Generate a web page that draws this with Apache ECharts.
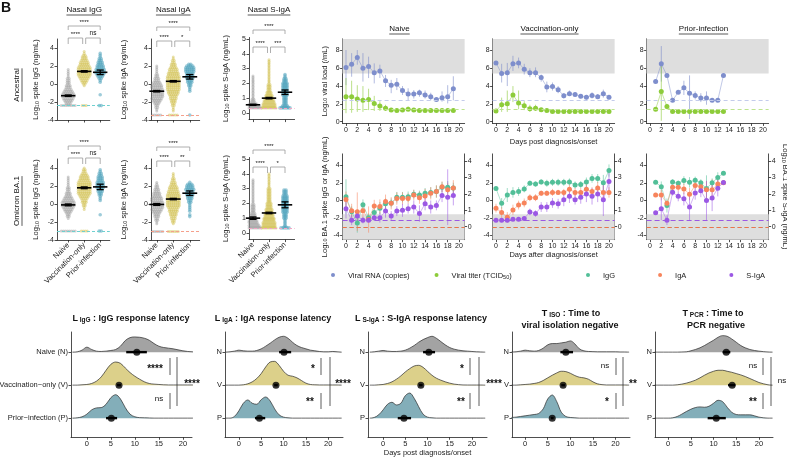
<!DOCTYPE html>
<html><head><meta charset="utf-8">
<script src="https://cdn.jsdelivr.net/npm/echarts@6/dist/echarts.min.js"></script>
<style>html,body{margin:0;padding:0;background:#fff}#c{width:787px;height:458px}</style>
</head><body><div id="c"></div><script>
const FONT = "'Liberation Sans', Arial, Helvetica, sans-serif";

// ---------------- DATA ----------------
const groupNames = ['Naive', 'Vaccination-only', 'Prior-infection'];

// Beeswarm panels: points at LOD (lodN) + counts per y-bin (start, step)
const ancIgG_lod = -2.4;
const ancIgG_naive = {lodN: 8, start: -2.2, step: 0.2, counts: [3,4,5,6,7,7,6,5,4,3,3,2,2,2,2,1,1,1,1,1]};
const ancIgG_vacc  = {lodN: 3, start: -0.2, step: 0.2, counts: [1,2,3,4,5,6,7,7,7,7,7,6,5,5,4,3,3,2,1,1]};
const ancIgG_prior = {lodN: 2, start: -1.2, step: 0.2, counts: [1,0,0,0,0,0,0,1,1,2,3,4,5,5,5,4,4,3,3,2,2,1,1,1]};
const ancIgG_mean = [[-1.3, 0.08], [1.4, 0.08], [1.3, 0.25]];

const ancIgA_lod = -3.45;
const ancIgA_naive = {lodN: 5, start: -3.0, step: 0.2, counts: [1,1,2,2,3,4,5,6,7,7,7,7,7,6,6,5,4,3,3,2,2,1,1,1,1,1]};
const ancIgA_vacc  = {lodN: 5, start: -3.0, step: 0.2, counts: [1,1,1,2,2,3,3,4,4,5,6,6,7,7,7,7,7,7,7,7,6,6,5,5,4,3,3,2,2,1,1]};
const ancIgA_prior = {lodN: 1, start: -0.8, step: 0.2, counts: [1,1,1,2,2,3,3,4,4,4,4,5,5,5,4,2]};
const ancIgA_mean = [[-0.8, 0.08], [0.3, 0.08], [0.8, 0.25]];

const ancSIgA_lod = 0.34;
const ancSIgA_naive = {lodN: 9, start: 0.4, step: 0.1, counts: [8,7,5,3,2,2,1,1,1,1,1,1,1,1,1,1,1,1,1,1,1,1]};
const ancSIgA_vacc  = {lodN: 8, start: 0.4, step: 0.1, counts: [7,7,7,6,6,5,5,4,4,3,3,2,2,2,2,2,1,1,1,1,1,1,1,1,1,1,1,1,1,1,1,1,1]};
const ancSIgA_prior = {lodN: 6, start: 0.4, step: 0.1, counts: [4,3,2,2,2,2,2,2,3,3,3,3,3,3,3,3,3,2,2,2,1,1,1]};
const ancSIgA_mean = [[0.55, 0.04], [1.0, 0.05], [1.4, 0.15]];

const omiIgG_lod = -3.0;
const omiIgG_naive = {lodN: 8, start: -1.6, step: 0.2, counts: [1,2,2,3,4,5,6,7,7,7,6,5,4,3,3,2,2,2,1,1,1,1,1,1]};
const omiIgG_vacc  = {lodN: 4, start: -0.6, step: 0.2, counts: [1,1,2,2,3,3,4,5,6,7,7,7,7,7,7,7,6,5,5,4,3,2,2,1]};
const omiIgG_prior = {lodN: 2, start: -1.2, step: 0.2, counts: [1,0,0,0,0,0,0,0,1,1,1,2,2,3,3,4,4,4,4,3,3,3,2,2,1,1]};
const omiIgG_mean = [[-0.1, 0.1], [1.8, 0.1], [1.9, 0.3]];

const omiIgA_lod = -3.05;
const omiIgA_naive = {lodN: 7, start: -2.2, step: 0.2, counts: [1,1,2,2,3,3,4,5,6,7,7,7,7,6,6,5,4,4,3,3,2,2,1,1]};
const omiIgA_vacc  = {lodN: 6, start: -2.2, step: 0.2, counts: [1,2,2,3,3,4,4,5,5,6,7,7,7,7,7,7,7,6,6,5,5,4,3,3,2,2,1,1,1]};
const omiIgA_prior = {lodN: 0, start: -1.4, step: 0.2, counts: [1,1,0,1,1,1,1,1,2,2,3,3,4,4,4,5,4,4,3,1]};
const omiIgA_mean = [[-0.05, 0.1], [0.55, 0.08], [1.2, 0.25]];

const omiSIgA_lod = 0.34;
const omiSIgA_naive = {lodN: 9, start: 0.4, step: 0.1, counts: [8,7,6,5,5,4,4,3,3,3,2,2,2,2,2,2,1,1,1,1,1,1,1,1,1,1,1,1,1,1,1,1,1]};
const omiSIgA_vacc  = {lodN: 8, start: 0.4, step: 0.1, counts: [7,7,7,7,6,6,6,5,5,5,4,4,4,3,3,3,3,2,2,2,2,2,2,2,2,2,2,1,1,1,1,1,1,1,1,1,1]};
const omiSIgA_prior = {lodN: 5, start: 0.4, step: 0.1, counts: [2,1,1,1,1,1,2,2,2,2,3,3,3,3,3,3,3,3,3,3,3,3,2,2,2,2]};
const omiSIgA_mean = [[1.0, 0.08], [1.35, 0.05], [1.9, 0.2]];

// Viral load time courses
const naiveDays = [0,1,2,3,4,5,6,7,8,9,10,11,12,13,14,15,16,17,18,19];
const naiveRNA   = [6.1,6.45,7.2,6.0,6.2,5.5,5.7,4.6,4.1,4.2,3.5,3.1,3.1,3.25,3.0,2.8,2.5,2.7,2.8,3.7];
const naiveRNAlo = [4.1,5.05,6.4,4.5,4.9,4.3,4.9,3.9,3.2,3.55,3.0,2.4,2.6,2.8,2.6,2.4,2.4,2.25,2.05,2.4];
const naiveRNAhi = [8.05,7.7,8.05,7.7,7.3,6.55,6.4,5.25,4.7,4.9,4.0,3.75,3.55,3.6,3.5,3.25,2.6,3.4,4.1,5.1];
const naiveTiter   = [2.8,2.8,2.55,2.4,2.5,2.05,1.75,1.5,1.3,1.25,1.3,1.4,1.3,1.25,1.25,1.25,1.25,1.25,1.25,1.25];
const naiveTiterLo = [0.95,1.0,1.1,1.1,1.3,1.2,1.2,1.2,1.2,1.2,1.2,1.2,1.2,1.2,1.25,1.25,1.25,1.25,1.25,1.25];
const naiveTiterHi = [4.9,4.6,4.1,4.0,3.7,2.9,2.3,1.9,1.45,1.35,1.5,1.7,1.45,1.35,1.25,1.25,1.25,1.25,1.25,1.25];

const vaccDays = [0,1,2,3,4,5,6,7,8,9,10,11,12,13,14,15,16,17,18,19,20];
const vaccRNA   = [6.6,5.4,5.5,6.5,6.6,5.9,5.5,5.5,4.95,3.9,3.95,3.6,2.9,3.15,3.05,2.85,2.75,2.95,2.8,3.15,2.75];
const vaccRNAlo = [6.6,4.4,4.0,5.7,6.0,5.3,5.0,5.0,4.5,3.3,3.5,3.2,2.6,2.9,2.8,2.6,2.5,2.6,2.55,2.7,2.5];
const vaccRNAhi = [6.6,6.5,6.6,7.4,7.2,6.5,6.0,6.1,5.3,4.5,4.4,4.0,3.2,3.5,3.3,3.1,3.0,3.3,3.1,3.6,3.0];
const vaccTiter   = [1.2,1.9,2.0,3.0,2.1,1.8,1.45,1.5,1.35,1.25,1.15,1.15,1.15,1.15,1.15,1.15,1.15,1.15,1.15,1.15,1.15];
const vaccTiterLo = [1.2,1.1,1.1,2.2,1.4,1.3,1.1,1.2,1.2,1.15,1.15,1.15,1.15,1.15,1.15,1.15,1.15,1.15,1.15,1.15,1.15];
const vaccTiterHi = [1.2,2.7,3.5,4.0,3.5,2.3,1.9,1.9,1.5,1.35,1.15,1.15,1.15,1.15,1.15,1.15,1.15,1.15,1.15,1.15,1.15];

const priorDays = [1,2,3,4,5,6,7,8,9,10,11,12,13];
const priorRNA   = [4.5,6.5,5.2,2.4,3.3,3.8,3.2,2.95,2.65,2.65,2.4,2.4,5.2];
const priorRNAlo = [4.5,4.5,5.2,2.4,3.3,3.0,0.3,2.5,2.2,1.9,2.4,2.4,5.2];
const priorRNAhi = [4.5,8.5,5.2,2.4,3.3,4.6,5.2,3.4,3.2,3.4,2.4,2.4,5.2];
const priorTiter   = [1.4,3.4,1.7,1.15,1.15,1.15,1.15,1.15,1.15,1.15,1.15,1.15,1.15];
const priorTiterLo = [1.4,0.1,1.4,1.15,1.15,1.15,1.15,1.15,1.15,1.15,1.15,1.15,1.15];
const priorTiterHi = [1.4,6.5,2.0,1.15,1.15,1.15,1.15,1.15,1.15,1.15,1.15,1.15,1.15];
const rnaLOD = 2.45, titerLOD = 1.45, shadeLow = 5.4, shadeHigh = 9.3;

// Antibody time courses (IgG/IgA left axis, S-IgA right axis); *E = half error
const naiveIgG  = [0.4,-1.3,-2.6,-0.5,-2.0,-1.4,-0.9,-0.4,-0.3,0.35,0.35,0.4,0.7,0.6,0.8,0.9,1.0,1.5,1.5,1.4];
const naiveIgGE = [2.0,0.6,1.1,0.6,0.5,0.6,0.7,0.6,0.5,0.6,0.6,0.6,0.5,0.5,0.6,0.6,0.7,0.6,0.7,0.6];
const naiveIgA  = [0.1,-1.2,-1.3,-1.2,-2.2,-0.65,-0.7,-0.15,-0.35,0.2,0.2,0.2,0.6,0.3,0.5,0.8,1.0,1.55,1.2,1.4];
const naiveIgAE = [0.9,0.8,2.2,0.8,1.5,0.7,0.8,0.8,0.7,0.7,0.7,0.6,0.6,0.7,0.8,0.7,0.7,0.6,0.8,0.9];
const naiveSIgA  = [1.1,0.4,0.65,0.4,0.4,0.55,0.55,0.95,0.65,0.95,1.0,1.1,1.2,0.8,1.4,1.2,1.3,1.9,1.8,1.9];
const naiveSIgAE = [0.6,0.3,0.3,0.2,0.1,0.2,0.3,0.4,0.3,0.3,0.4,0.3,0.4,0.5,0.4,0.4,0.3,0.4,1.7,0.6];
const vaccIgG  = [1.35,-0.35,0.6,0.9,1.0,1.3,1.95,1.85,2.1,1.95,2.05,2.05,2.05,2.1,1.75,1.8,2.1,2.5,2.5,2.0,3.4];
const vaccIgGE = [0.1,0.6,0.8,0.6,0.5,0.4,0.3,0.3,0.3,0.4,0.4,0.4,0.4,0.4,0.4,0.4,0.5,0.5,0.5,0.9,0.7];
const vaccIgA  = [-0.9,-1.4,-1.95,-1.1,-0.55,-0.3,0.3,0.3,0.8,0.8,0.9,0.9,0.9,1.25,0.9,0.9,1.25,1.0,1.4,0.9,0.9];
const vaccIgAE = [0.5,0.6,0.6,0.6,0.5,0.5,0.4,0.4,0.3,0.3,0.4,0.3,0.4,0.5,0.5,0.5,0.6,0.5,0.7,0.8,0.6];
const vaccSIgA  = [0.4,0.4,0.4,0.45,0.45,0.5,0.9,0.8,1.2,1.2,1.45,1.4,1.65,1.85,1.65,1.8,2.0,1.85,2.0,1.65,2.75];
const vaccSIgAE = [0.05,0.05,0.05,0.05,0.05,0.1,0.2,0.2,0.3,0.3,0.3,0.3,0.4,0.4,0.3,0.4,0.5,0.5,0.5,1.0,0.8];
const priorIgG  = [2.05,1.55,-0.6,2.1,1.95,2.25,2.05,2.3,2.0,1.35,2.0,2.6,3.1];
const priorIgGE = [0.2,0.6,0.8,0.3,0.3,0.5,0.6,0.4,0.4,1.5,0.5,0.6,0.1];
const priorIgA  = [0.6,0.6,-0.35,1.5,1.5,1.3,0.7,1.7,1.55,1.2,1.2,1.85,2.0];
const priorIgAE = [0.2,0.6,0.3,0.3,0.5,0.6,0.7,0.5,0.5,1.0,1.2,0.6,0.1];
const priorSIgA  = [0.85,1.1,0.4,2.1,1.85,1.7,1.2,2.05,2.2,1.6,1.75,2.35,2.7];
const priorSIgAE = [0.1,0.7,0.3,0.2,0.3,0.4,0.8,0.4,0.4,1.2,0.8,0.5,0.1];
const sIgALODleft = -2.3, igALOD = -3.1, igGLOD = -3.05, abShadeTop = -1.6;

// Ridgeline densities, x = -3..23 step 1
const ridgeX = [-3,-2,-1,0,1,2,3,4,5,6,7,8,9,10,11,12,13,14,15,16,17,18,19,20,21,22,23];
const lIgG_N = [0,0.01,0.06,0.15,0.08,0.03,0.02,0.03,0.05,0.08,0.18,0.35,0.44,0.46,0.45,0.42,0.36,0.26,0.18,0.14,0.12,0.1,0.07,0.04,0.02,0.01,0];
const lIgG_V = [0,0,0.01,0.02,0.05,0.12,0.25,0.45,0.63,0.7,0.66,0.52,0.38,0.27,0.18,0.1,0.05,0.03,0.02,0.01,0.005,0.005,0.005,0.005,0.005,0.005,0];
const lIgG_P = [0,0.01,0.04,0.12,0.25,0.31,0.32,0.42,0.62,0.71,0.58,0.32,0.12,0.04,0.015,0.01,0.005,0,0,0,0,0,0,0,0,0,0];
const lIgA_N = [0,0.01,0.03,0.06,0.04,0.03,0.03,0.05,0.1,0.18,0.27,0.37,0.45,0.48,0.42,0.3,0.2,0.14,0.1,0.06,0.04,0.02,0.01,0.01,0.02,0.01,0];
const lIgA_V = [0,0,0,0,0.01,0.04,0.1,0.2,0.35,0.55,0.7,0.72,0.6,0.42,0.3,0.27,0.22,0.14,0.06,0.02,0.01,0.005,0.005,0.005,0.005,0.005,0];
const lIgA_P = [0,0,0.05,0.22,0.45,0.55,0.45,0.42,0.56,0.64,0.52,0.28,0.1,0.03,0.01,0,0,0,0,0,0,0,0,0,0,0,0];
const lSIgA_N = [0,0.01,0.03,0.05,0.03,0.02,0.02,0.03,0.06,0.12,0.2,0.3,0.38,0.44,0.48,0.42,0.32,0.22,0.14,0.09,0.06,0.04,0.03,0.02,0.01,0.005,0];
const lSIgA_V = [0,0,0.01,0.02,0.05,0.1,0.18,0.28,0.4,0.5,0.58,0.6,0.54,0.42,0.3,0.21,0.15,0.1,0.06,0.03,0.015,0.005,0.003,0.003,0.003,0.003,0];
const lSIgA_P = [0,0.02,0.1,0.25,0.42,0.48,0.4,0.45,0.68,0.76,0.6,0.35,0.12,0.03,0.01,0,0,0,0,0,0,0,0,0,0,0,0];
const tIso_N = [0.005,0.01,0.03,0.06,0.04,0.03,0.05,0.12,0.22,0.26,0.26,0.28,0.3,0.34,0.25,0.1,0.04,0.02,0.015,0.01,0.01,0.01,0.01,0.01,0.005,0.005,0];
const tIso_V = [0,0,0.01,0.02,0.03,0.05,0.08,0.14,0.22,0.3,0.37,0.42,0.41,0.36,0.29,0.24,0.22,0.18,0.1,0.04,0.015,0.005,0.005,0.005,0.005,0.005,0];
const tIso_P = [0.02,0.03,0.05,0.07,0.09,0.11,0.14,0.28,0.58,0.7,0.5,0.18,0.05,0.02,0.01,0,0,0,0,0,0,0,0,0,0,0,0];
const tPcr_N = [0,0,0,0,0,0,0.005,0.01,0.04,0.08,0.13,0.2,0.28,0.36,0.45,0.5,0.48,0.4,0.3,0.2,0.13,0.08,0.05,0.03,0.015,0.005,0];
const tPcr_V = [0,0,0,0,0,0.01,0.03,0.06,0.1,0.15,0.22,0.3,0.37,0.42,0.45,0.45,0.42,0.39,0.35,0.31,0.26,0.2,0.14,0.08,0.04,0.01,0];
const tPcr_P = [0,0,0,0,0.01,0.05,0.12,0.2,0.27,0.32,0.34,0.33,0.36,0.45,0.54,0.5,0.33,0.18,0.11,0.1,0.1,0.1,0.07,0.03,0.01,0,0];
// median, lower, upper (N, V, P)
const lIgG_pi  = [[10.4,8.2,12.5],[6.7,6.3,7.1],[5.1,4.0,6.3]];
const lIgA_pi  = [[10.1,9.0,11.7],[8.3,7.9,8.7],[4.6,3.6,5.9]];
const lSIgA_pi = [[10.3,9.0,11.7],[8.5,8.1,8.9],[4.7,3.3,6.3]];
const tIso_pi  = [[9.0,7.8,10.6],[8.4,8.0,8.8],[6.0,5.7,6.3]];
const tPcr_pi  = [[12.8,12.0,13.7],[14.1,13.2,14.8],[10.6,8.7,12.7]];

// ---------------- COLORS ----------------
const C = {gray:'#8e8e8e', yellow:'#c9b52e', blue:'#4fa3bb', rna:'#7e8ecc', titer:'#8dcc3a',
  igg:'#52bf98', iga:'#f7845c', siga:'#9b58e4', shade:'#dedede',
  rN:'#a3a3a3', rV:'#dcd08a', rP:'#83aeb9', axis:'#222'};

// ---------------- HELPERS ----------------
const option = {animation:false, backgroundColor:'#fff', textStyle:{fontFamily:FONT},
  grid:[], xAxis:[], yAxis:[], series:[], graphic:{elements:[]}};
const G = option.graphic.elements;
const RICH = {n:{fontSize:7.5, fontFamily:FONT, color:'#222', lineHeight:10, verticalAlign:'bottom'},
              s:{fontSize:5.5, fontFamily:FONT, color:'#222', lineHeight:5, verticalAlign:'bottom'}};
const mctx = document.createElement('canvas').getContext('2d');
function tw(t, size, weight){ mctx.font = (weight||'normal') + ' ' + size + 'px ' + FONT; return mctx.measureText(t).width; }

function addGrid(l,t,w,h){ option.grid.push({left:l, top:t, width:w, height:h, containLabel:false, outerBoundsMode:'none'}); return option.grid.length-1; }
const axLine = {show:true, onZero:false, lineStyle:{color:C.axis, width:0.8}};
function addX(gi, min, max, ticks, o){
  o = o || {};
  option.xAxis.push({type:'value', gridIndex:gi, min:min, max:max, position:'bottom',
    axisLine:axLine,
    axisTick:{show:true, length:2.5, customValues:ticks, lineStyle:{color:C.axis, width:0.8}},
    axisLabel:{show:o.labels!==false, customValues:ticks, formatter:o.fmt||(v=>String(v)), rotate:o.rotate||0,
      margin:o.margin||3, fontSize:o.size||7, color:'#222', fontFamily:FONT, hideOverlap:false},
    splitLine:{show:false},
    name:o.name||'', nameLocation:'middle', nameGap:o.nameGap||14,
    nameTextStyle:{fontSize:7.5, color:'#222', fontFamily:FONT}});
  return option.xAxis.length-1;
}
function addY(gi, min, max, ticks, o){
  o = o || {};
  option.yAxis.push({type:'value', gridIndex:gi, min:min, max:max, position:o.pos||'left',
    axisLine:axLine,
    axisTick:{show:true, length:2.5, customValues:ticks, lineStyle:{color:C.axis, width:0.8}},
    axisLabel:{show:true, customValues:ticks, formatter:o.fmt||(v=>String(v)), margin:3,
      fontSize:o.size||7, color:'#222', fontFamily:FONT, hideOverlap:false},
    splitLine:{show:false},
    name:o.name||'', nameLocation:'middle', nameGap:o.nameGap||18, nameRotate:o.nameRotate==null?90:o.nameRotate,
    nameTextStyle:{fontSize:7.5, color:'#222', fontFamily:FONT, rich:RICH}});
  return option.yAxis.length-1;
}
function txt(x,y,t,o){
  o = o || {};
  G.push({type:'text', x:x, y:y, rotation:o.rot||0, z:100, silent:true,
    style:{text:t, fill:o.color||'#111', fontSize:o.size||8, fontFamily:FONT, fontWeight:o.weight||'normal',
      align:o.align||'center', verticalAlign:o.va||'middle', textAlign:o.align||'center', textVerticalAlign:o.va||'middle', rich:o.rich}});
}
function seg(x1,y1,x2,y2,o){
  o = o || {};
  G.push({type:'line', z:100, silent:true, shape:{x1:x1,y1:y1,x2:x2,y2:y2}, style:{stroke:o.color||'#333', lineWidth:o.w||0.8}});
}
function bracket(x1,x2,y,leg,label){
  G.push({type:'polyline', z:100, silent:true, shape:{points:[[x1,y+leg],[x1,y],[x2,y],[x2,y+leg]]}, style:{stroke:'#9a9a9a', lineWidth:0.8, fill:null}});
  txt((x1+x2)/2, y-1, label, {size:label==='ns'?6.5:6, va:'bottom'});
}
function errRender(color, width, op){
  return function(params, api){
    const a = api.coord([api.value(0), api.value(1)]), b = api.coord([api.value(0), api.value(2)]);
    return {type:'line', shape:{x1:a[0],y1:a[1],x2:b[0],y2:b[1]}, style:{stroke:color, lineWidth:width, opacity:op}};
  };
}
function meanRender(params, api){
  const x = api.value(0), m = api.value(1), lo = api.value(2), hi = api.value(3);
  const L = api.coord([x-0.45,m]), R = api.coord([x+0.45,m]), Lo = api.coord([x,lo]), Hi = api.coord([x,hi]);
  const c1 = api.coord([x-0.22,lo]), c2 = api.coord([x+0.22,lo]), c3 = api.coord([x-0.22,hi]), c4 = api.coord([x+0.22,hi]);
  const st = {stroke:'#000', lineWidth:1.3};
  return {type:'group', children:[
    {type:'line', shape:{x1:L[0],y1:L[1],x2:R[0],y2:R[1]}, style:{stroke:'#000', lineWidth:1.6}},
    {type:'line', shape:{x1:Lo[0],y1:Lo[1],x2:Hi[0],y2:Hi[1]}, style:st},
    {type:'line', shape:{x1:c1[0],y1:c1[1],x2:c2[0],y2:c2[1]}, style:st},
    {type:'line', shape:{x1:c3[0],y1:c3[1],x2:c4[0],y2:c4[1]}, style:st}]};
}

// ---------------- SCATTER (BEESWARM) PANELS ----------------
const scatterPanels = [
  {left:57,  xmin:0.3,  ppu:16,   ymin:-4, ymax:5, ticks:[-4,-2,0,2,4], name:'spike IgG (ng/mL)', gap:17, lodColor:'#6fd0d0'},
  {left:151, xmin:0.65, ppu:16.5, ymin:-4, ymax:5, ticks:[-4,-2,0,2,4], name:'spike IgA (ng/mL)', gap:23, lodColor:'#f5a08c'},
  {left:249, xmin:0.75, ppu:16,   ymin:-0.45, ymax:5.1, ticks:[0,1,2,3,4,5], name:'spike S-IgA (ng/mL)', gap:19, lodColor:'#f2a6c4'}
];
const rowData = [
  [[ancIgG_naive,ancIgG_vacc,ancIgG_prior,ancIgG_lod,ancIgG_mean],[ancIgA_naive,ancIgA_vacc,ancIgA_prior,ancIgA_lod,ancIgA_mean],[ancSIgA_naive,ancSIgA_vacc,ancSIgA_prior,ancSIgA_lod,ancSIgA_mean]],
  [[omiIgG_naive,omiIgG_vacc,omiIgG_prior,omiIgG_lod,omiIgG_mean],[omiIgA_naive,omiIgA_vacc,omiIgA_prior,omiIgA_lod,omiIgA_mean],[omiSIgA_naive,omiSIgA_vacc,omiSIgA_prior,omiSIgA_lod,omiSIgA_mean]]
];
const groupColors = [C.gray, C.yellow, C.blue];
function swarm(cfg, lod, cat, dx){
  const pts = [];
  const add = (y,n) => { for (let j=0;j<n;j++) pts.push([cat + (j-(n-1)/2)*dx, y]); };
  add(lod, cfg.lodN);
  cfg.counts.forEach((n,i) => add(cfg.start + i*cfg.step, n));
  return pts;
}
function catPx(p, k){ return p.left + (k - p.xmin)*p.ppu; }
for (let r=0;r<2;r++){
  scatterPanels.forEach((p, c) => {
    const yppu = c===2 ? 14.79 : 9;
    const baseTop = c===2 ? 37.5 : 39;
    const top = baseTop + r*120;
    const xmax = 3.6;
    const gi = addGrid(p.left, top, (xmax-p.xmin)*p.ppu, (p.ymax-p.ymin)*yppu);
    const xi = addX(gi, p.xmin, xmax, [1,2,3], {labels:r===1, rotate:45, fmt:v=>groupNames[Math.round(v)-1]||'', size:7.5, margin:4});
    const yi = addY(gi, p.ymin, p.ymax, p.ticks, {name:'{n|Log}{s|10}{n| '+p.name+'}', nameGap:p.gap});
    const d = rowData[r][c];
    const lod = d[3];
    for (let g=0; g<3; g++){
      const s = {type:'scatter', xAxisIndex:xi, yAxisIndex:yi, silent:true, z:2,
        data: swarm(d[g], lod, g+1, 2/p.ppu), symbolSize: g===2?3.6:3,
        itemStyle:{color:groupColors[g], opacity: g===2?0.55:0.4}};
      if (g===0) s.markLine = {silent:true, symbol:'none', label:{show:false}, z:3,
        lineStyle:{color:p.lodColor, type:[3,2], width:1}, data:[{yAxis:lod}]};
      option.series.push(s);
    }
    option.series.push({type:'custom', xAxisIndex:xi, yAxisIndex:yi, silent:true, z:5, renderItem:meanRender,
      data: d[4].map((m,g)=>[g+1, m[0], m[0]-m[1], m[0]+m[1]])});
  });
}
// brackets
const sig = [
  [['****','****','ns'],['****','****','*'],['****','****','***']],
  [['****','****','ns'],['****','****','**'],['****','****','*']]
];
const brY = [[26,38],[27,41],[30,47]];
for (let r=0;r<2;r++){
  scatterPanels.forEach((p,c)=>{
    const x1=catPx(p,1), x2=catPx(p,2), x3=catPx(p,3), off=r*120;
    bracket(x1, x3, brY[c][0]+off, 4, sig[r][c][0]);
    bracket(x1, x2-1.5, brY[c][1]+off, 6, sig[r][c][1]);
    bracket(x2+1.5, x3, brY[c][1]+off, 6, sig[r][c][2]);
  });
}
// panel titles (underlined)
function uTitle(cx, cy, t, size){ txt(cx, cy, t, {size:size}); const w = tw(t,size); seg(cx-w/2, cy+5, cx+w/2, cy+5, {color:'#111', w:0.7}); }
uTitle(catPx(scatterPanels[0],2), 10, 'Nasal IgG', 8);
uTitle(catPx(scatterPanels[1],2), 10, 'Nasal IgA', 8);
uTitle(catPx(scatterPanels[2],2), 10, 'Nasal S-IgA', 8);
function rowLabel(cx, cy, t){ txt(cx, cy, t, {size:8, rot:Math.PI/2}); const w = tw(t,8); seg(cx+5, cy-w/2, cx+5, cy+w/2, {color:'#111', w:0.7}); }
rowLabel(17, 85, 'Ancestral');
rowLabel(17, 201, 'Omicron BA.1');
txt(1, 1, 'B', {size:14, weight:'bold', align:'left', va:'top'});

// ---------------- VIRAL LOAD PANELS ----------------
const tsLefts = [342.6, 492.6, 646.6];
const tsW = 21.6*5.65;
const dayTicks = [0,2,4,6,8,10,12,14,16,18,20];
const viral = [
  [naiveDays, naiveRNA, naiveRNAlo, naiveRNAhi, naiveTiter, naiveTiterLo, naiveTiterHi, 'Naive'],
  [vaccDays, vaccRNA, vaccRNAlo, vaccRNAhi, vaccTiter, vaccTiterLo, vaccTiterHi, 'Vaccination-only'],
  [priorDays, priorRNA, priorRNAlo, priorRNAhi, priorTiter, priorTiterLo, priorTiterHi, 'Prior-infection']
];
viral.forEach((v, k) => {
  const gi = addGrid(tsLefts[k], 38.9, tsW, 9.5*8.9);
  const xi = addX(gi, -0.6, 21, dayTicks, k===1?{name:'Days post diagnosis/onset', nameGap:14}:{});
  const yi = addY(gi, -0.2, shadeHigh, [0,2,4,6,8], k===0?{name:'{n|Log}{s|10}{n| viral load (/mL)}', nameGap:14}:{});
  option.series.push({type:'line', xAxisIndex:xi, yAxisIndex:yi, data:[], silent:true, z:1,
    markArea:{silent:true, itemStyle:{color:C.shade}, data:[[{xAxis:-0.6, yAxis:shadeLow},{xAxis:21, yAxis:shadeHigh}]]},
    markLine:{silent:true, symbol:'none', label:{show:false},
      data:[{yAxis:rnaLOD, lineStyle:{color:'#c3cbeb', type:[4,3], width:1}},{yAxis:titerLOD, lineStyle:{color:'#bde48f', type:[4,3], width:1}}]}});
  const d = v[0];
  option.series.push({type:'custom', name:'rnaerr', xAxisIndex:xi, yAxisIndex:yi, silent:true, z:3, renderItem:errRender(C.rna,1,0.6),
    data:d.map((x,i)=>[x, v[2][i], v[3][i]])});
  option.series.push({type:'custom', name:'titererr', xAxisIndex:xi, yAxisIndex:yi, silent:true, z:3, renderItem:errRender(C.titer,1,0.6),
    data:d.map((x,i)=>[x, v[5][i], v[6][i]])});
  option.series.push({type:'line', name:'Viral RNA (copies)', xAxisIndex:xi, yAxisIndex:yi, silent:true, z:4,
    data:d.map((x,i)=>[x, v[1][i]]), symbol:'circle', symbolSize:5, color:C.rna,
    itemStyle:{color:C.rna}, lineStyle:{color:C.rna, width:0.9, opacity:0.55}});
  option.series.push({type:'line', name:'Viral titer (TCID50)', xAxisIndex:xi, yAxisIndex:yi, silent:true, z:4,
    data:d.map((x,i)=>[x, v[4][i]]), symbol:'circle', symbolSize:5, color:C.titer,
    itemStyle:{color:C.titer}, lineStyle:{color:C.titer, width:0.9, opacity:0.55}});
  uTitle(tsLefts[k] + 3.4 + 10*5.65 - 3, 29, v[7], 8);
});

// ---------------- ANTIBODY PANELS ----------------
const ab = [
  [naiveDays, naiveIgG, naiveIgGE, naiveIgA, naiveIgAE, naiveSIgA, naiveSIgAE],
  [vaccDays, vaccIgG, vaccIgGE, vaccIgA, vaccIgAE, vaccSIgA, vaccSIgAE],
  [priorDays, priorIgG, priorIgGE, priorIgA, priorIgAE, priorSIgA, priorSIgAE]
];
const rMin = -0.79, rMax = 4.44;
ab.forEach((v, k) => {
  const gi = addGrid(tsLefts[k], 153.9, tsW, 9.8*8.75);
  const xi = addX(gi, -0.6, 21, dayTicks, k===1?{name:'Days after diagnosis/onset', nameGap:11}:{});
  const yi = addY(gi, -4.5, 5.3, [-4,-2,0,2,4], k===0?{name:'{n|Log}{s|10}{n| BA.1 spike IgG or IgA (ng/mL)}', nameGap:14}:{});
  const yr = addY(gi, rMin, rMax, [0,1,2,3,4], Object.assign({pos:'right'}, k===2?{name:'{n|Log}{s|10}{n| BA.1 spike S-IgA (ng/mL)}', nameGap:12, nameRotate:-90}:{}));
  option.series.push({type:'line', xAxisIndex:xi, yAxisIndex:yi, data:[], silent:true, z:1,
    markArea:{silent:true, itemStyle:{color:C.shade}, data:[[{xAxis:-0.6, yAxis:-4.5},{xAxis:21, yAxis:abShadeTop}]]},
    markLine:{silent:true, symbol:'none', label:{show:false},
      data:[{yAxis:igGLOD, lineStyle:{color:'#52bf98', type:[4,3], width:1.1}},
            {yAxis:igALOD, lineStyle:{color:'#f0724a', type:[4,3], width:1.1}},
            {yAxis:sIgALODleft, lineStyle:{color:'#9b58e4', type:[5,3], width:1.2}}]}});
  const d = v[0];
  const defs = [[1,2,C.igg,'IgG',yi],[3,4,C.iga,'IgA',yi],[5,6,C.siga,'S-IgA',yr]];
  defs.forEach(df => {
    option.series.push({type:'custom', name:df[3]+'err', xAxisIndex:xi, yAxisIndex:df[4], silent:true, z:3,
      renderItem:errRender(df[2],1,0.55), data:d.map((x,i)=>[x, v[df[0]][i]-v[df[1]][i], v[df[0]][i]+v[df[1]][i]])});
  });
  defs.forEach(df => {
    option.series.push({type:'line', name:df[3], xAxisIndex:xi, yAxisIndex:df[4], silent:true, z:4,
      data:d.map((x,i)=>[x, v[df[0]][i]]), symbol:'circle', symbolSize:5, color:df[2],
      itemStyle:{color:df[2]}, lineStyle:{color:df[2], width:0.9, opacity:0.5}});
  });
});

// ---------------- LEGENDS ----------------
const legText = {fontSize:7.5, fontFamily:FONT, color:'#222', padding:[0,0,0,8],
  rich:{n:{fontSize:7.5, fontFamily:FONT, color:'#222', lineHeight:10, verticalAlign:'bottom'},
        s:{fontSize:5.5, fontFamily:FONT, color:'#222', lineHeight:4, verticalAlign:'bottom'}}};
option.legend = [
  {data:['Viral RNA (copies)','Viral titer (TCID50)'], left:326, top:267, icon:'circle', itemWidth:4, itemHeight:4, itemGap:25,
   selectedMode:false, textStyle:legText, formatter:n => n==='Viral titer (TCID50)' ? '{n|Viral titer (TCID}{s|50}{n|)}' : '{n|'+n+'}'},
  {data:['IgG','IgA','S-IgA'], left:581, top:267, icon:'circle', itemWidth:4, itemHeight:4, itemGap:43,
   selectedMode:false, textStyle:legText, formatter:n => '{n|'+n+'}'}
];

// ---------------- RIDGELINE PANELS ----------------
const ridgePanels = [
  {left:71,  width:121, xmin:-3.3, xmax:21.9, dens:[lIgG_N,lIgG_V,lIgG_P], pi:lIgG_pi,
   labels:['Prior\u2212infection (P)','Vaccination\u2212only (V)','Naive (N)']},
  {left:225, width:118, xmin:-3.1, xmax:23.3, dens:[lIgA_N,lIgA_V,lIgA_P], pi:lIgA_pi, labels:['P','V','N']},
  {left:368, width:119, xmin:-3.4, xmax:23.4, dens:[lSIgA_N,lSIgA_V,lSIgA_P], pi:lSIgA_pi, labels:['P','V','N'], xname:'Days post diagnosis/onset'},
  {left:512, width:118, xmin:-2.9, xmax:23.2, dens:[tIso_N,tIso_V,tIso_P], pi:tIso_pi, labels:['P','V','N']},
  {left:655, width:118, xmin:-2.9, xmax:23.1, dens:[tPcr_N,tPcr_V,tPcr_P], pi:tPcr_pi, labels:['P','V','N']}
];
const ridgeFill = [C.rN, C.rV, C.rP];
const ridgeBase = [2, 1, 0];
ridgePanels.forEach((p) => {
  const gi = addGrid(p.left, 332, p.width, 3.19*33);
  const xi = addX(gi, p.xmin, p.xmax, [0,5,10,15,20], p.xname?{name:p.xname, nameGap:11, size:7.5}:{size:7.5});
  const yi = addY(gi, -0.58, 2.61, [0,1,2], {fmt:v=>p.labels[Math.round(v)], size:7.5});
  for (let k=0;k<3;k++){
    const base = ridgeBase[k];
    option.series.push({type:'line', xAxisIndex:xi, yAxisIndex:yi, silent:true, z:2+k,
      data: ridgeX.map((x,i)=>[x, base + p.dens[k][i]]), smooth:0.35, symbol:'none',
      lineStyle:{color:'#2a2a2a', width:0.7}, areaStyle:{color:ridgeFill[k], opacity:1, origin:base}});
  }
  option.series.push({type:'custom', xAxisIndex:xi, yAxisIndex:yi, silent:true, z:8,
    renderItem:function(params, api){
      const a = api.coord([api.value(0), api.value(2)]), b = api.coord([api.value(1), api.value(2)]);
      return {type:'line', shape:{x1:a[0],y1:a[1],x2:b[0],y2:b[1]}, style:{stroke:'#000', lineWidth:2.4}};
    },
    data: p.pi.map((q,k)=>[q[1], q[2], ridgeBase[k]])});
  option.series.push({type:'scatter', xAxisIndex:xi, yAxisIndex:yi, silent:true, z:9, symbolSize:7,
    itemStyle:{color:'#000'}, data: p.pi.map((q,k)=>[q[0], ridgeBase[k]])});
});
// ridge titles
const RT = {b:{fontSize:9, fontWeight:'bold', fontFamily:FONT, color:'#111', lineHeight:11, verticalAlign:'bottom'},
            s:{fontSize:6.5, fontWeight:'bold', fontFamily:FONT, color:'#111', lineHeight:5, verticalAlign:'bottom'}};
txt(131, 318, '{b|L}{s| IgG}{b| : IgG response latency}', {rich:RT});
txt(273, 318, '{b|L}{s| IgA}{b| : IgA response latency}', {rich:RT});
txt(421, 318, '{b|L}{s| S-IgA}{b| : S-IgA response latency}', {rich:RT});
txt(571, 313, '{b|T}{s| ISO}{b| : Time to}', {rich:RT});
txt(570, 325, '{b|viral isolation negative}', {rich:RT});
txt(713, 313, '{b|T}{s| PCR}{b| : Time to}', {rich:RT});
txt(716, 325, '{b|PCR negative}', {rich:RT});
// ridge significance marks
const ridgeSig = [
  {a:'****', ax:155, b:'ns', bx:159, lx:170, Lx:177, c:'****', cx:192},
  {a:'*', ax:313, b:'**', bx:310, lx:321, Lx:330, c:'****', cx:343},
  {a:'*', ax:462, b:'**', bx:461, lx:470, Lx:479, c:'****', cx:494},
  {a:'ns', ax:605, b:'*', bx:607, lx:616, Lx:623, c:'**', cx:633},
  {a:'ns', ax:753, b:'**', bx:753, lx:763, Lx:771, c:'ns', cx:782}
];
ridgeSig.forEach(s => {
  const f = t => t==='ns' ? {size:8} : {size:10, weight:'bold'};
  txt(s.ax, s.a==='ns'?366:369, s.a, f(s.a));
  txt(s.bx, s.b==='ns'?399:402, s.b, f(s.b));
  txt(s.cx, s.c==='ns'?381:384, s.c, f(s.c));
  seg(s.lx, 358, s.lx, 375, {color:'#333', w:0.8});
  seg(s.lx, 393, s.lx, 409, {color:'#333', w:0.8});
  seg(s.Lx, 357, s.Lx, 406, {color:'#333', w:0.8});
});

const chart = echarts.init(document.getElementById('c'), null, {renderer:'canvas'});
chart.setOption(option);
</script></body></html>
